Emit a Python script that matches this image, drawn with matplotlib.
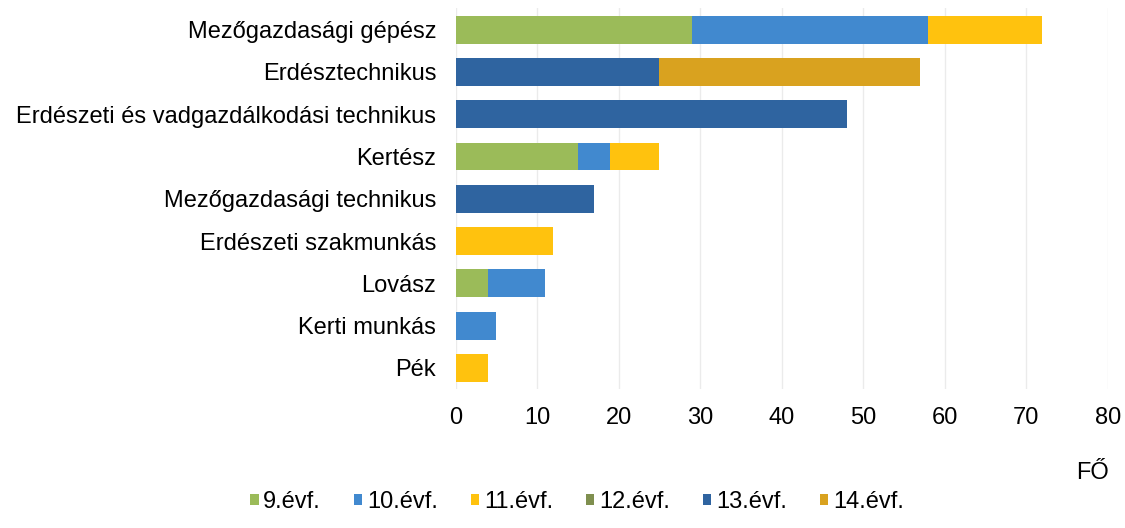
import matplotlib
matplotlib.use('Agg')
import matplotlib.pyplot as plt
import numpy as np

plt.rcParams['font.family'] = ['Liberation Sans', 'DejaVu Sans']

categories = ["Mezőgazdasági gépész", "Erdésztechnikus",
              "Erdészeti és vadgazdálkodási technikus", "Kertész",
              "Mezőgazdasági technikus", "Erdészeti szakmunkás",
              "Lovász", "Kerti munkás", "Pék"]
series_names = ["9.évf.", "10.évf.", "11.évf.", "12.évf.", "13.évf.", "14.évf."]
evf_9 = [29, 0, 0, 15, 0, 0, 4, 0, 0]
evf_10 = [29, 0, 0, 4, 0, 0, 7, 5, 0]
evf_11 = [14, 0, 0, 6, 0, 12, 0, 0, 4]
evf_12 = [0, 0, 0, 0, 0, 0, 0, 0, 0]
evf_13 = [0, 25, 48, 0, 17, 0, 0, 0, 0]
evf_14 = [0, 32, 0, 0, 0, 0, 0, 0, 0]
colors = ["#9BBB59", "#4189CF", "#FFC20E", "#7F8F4F", "#2F64A0", "#D9A21F"]

fig = plt.figure(figsize=(11.25, 5.28), dpi=100)
ax = fig.add_axes([0.405, 0.263, 0.5796, 0.721])

y = np.arange(len(categories))
left = np.zeros(len(categories))
for name, vals, c in zip(series_names, [evf_9, evf_10, evf_11, evf_12, evf_13, evf_14], colors):
    vals = np.array(vals, dtype=float)
    ax.barh(y, vals, left=left, height=0.66, color=c, label=name, zorder=2)
    left += vals

ax.set_ylim(len(categories) - 0.5, -0.5)
ax.set_xlim(0, 80)
ax.set_xticks(range(0, 81, 10))
ax.set_yticks(y)
ax.set_yticklabels(categories)
ax.tick_params(axis='both', length=0, labelsize=17)
ax.tick_params(axis='x', pad=13)
ax.tick_params(axis='y', pad=14)
ax.grid(axis='x', color='#ebebeb', linewidth=1, zorder=0)
for s in ax.spines.values():
    s.set_visible(False)

fig.text(0.971, 0.104, "FŐ", fontsize=17, ha='center', va='center')

fig.legend(loc='center', bbox_to_anchor=(0.513, 0.05), ncol=6, frameon=False,
           fontsize=17, handlelength=0.35, handleheight=0.35, handletextpad=0.2,
           columnspacing=1.4, borderaxespad=0)

fig.savefig("out.png", dpi=100)
